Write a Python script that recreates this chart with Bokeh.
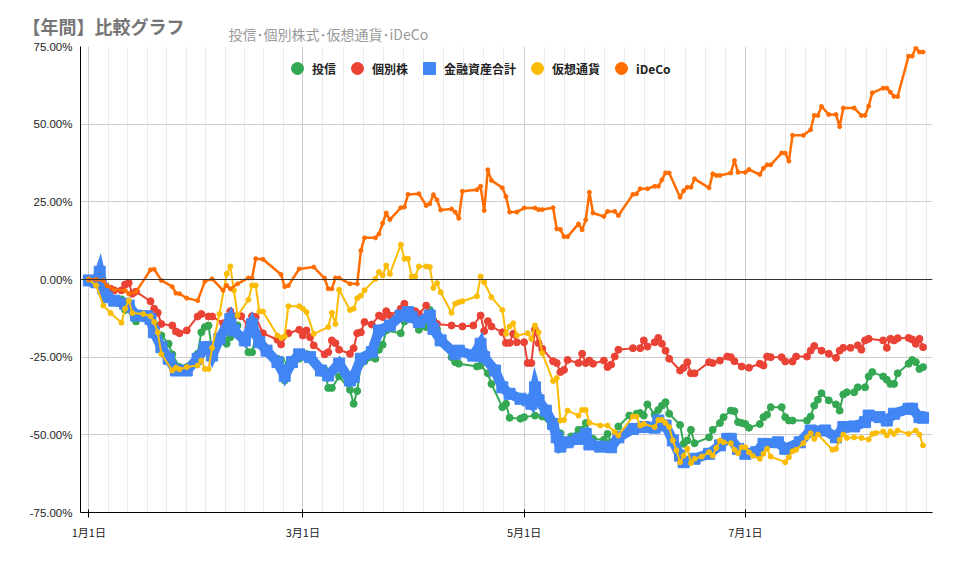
#!/usr/bin/env python3

from bokeh.embed import file_html
from bokeh.models import (ColumnDataSource, FixedTicker, Legend, LegendItem,
                          PrintfTickFormatter, Span, Title)
from bokeh.plotting import figure
from bokeh.resources import INLINE


# days counted from 1月1日, values in %
tick_days = [0, 59, 120, 181]
tick_labels = ["1月1日", "3月1日", "5月1日", "7月1日"]

toushin_day = [0, 3, 4, 5, 7, 9, 10, 12, 13, 15, 17, 18, 20, 22, 23, 25, 27, 30, 31, 32,
               33, 34, 37, 38, 39, 41, 44, 45, 46, 47, 52, 53, 54, 55, 58, 60, 62, 65, 66, 67,
               69, 72, 73, 74, 75, 76, 79, 80, 81, 82, 86, 87, 88, 91, 93, 94, 95, 96, 97, 100,
               101, 102, 107, 108, 110, 111, 114, 115, 116, 119, 120, 123, 125, 128, 129, 130, 131, 133, 135, 136,
               137, 138, 139, 142, 143, 144, 146, 149, 151, 152, 153, 154, 156, 157, 158, 159, 160, 163, 164, 165,
               166, 167, 171, 172, 174, 175, 177, 178, 179, 180, 181, 182, 185, 186, 187, 188, 191, 192, 193, 194,
               198, 199, 200, 201, 202, 204, 206, 207, 208, 209, 211, 212, 214, 215, 216, 219, 220, 221, 222, 223,
               226, 227, 228, 229, 230]
toushin_pct = [0, -0.3, -2.5, -5.7, -6.8, -6.4, -9.8, -9.8, -13.5, -11.6, -11.8, -14.3, -18, -20.7, -24.1, -28.2, -28.2, -23.9, -17, -15.3,
               -14.8, -23.4, -19.1, -20.7, -18.6, -14.8, -23.4, -23.4, -18.3, -18, -25.5, -25.9, -32.5, -27.1, -25.5, -24, -26.6, -29, -34.9, -34.9,
               -31.2, -35.5, -40, -35.9, -27.1, -26.3, -25.5, -22.6, -21, -16.4, -17.3, -13.5, -11.8, -16.2, -15.3, -9.8, -13.2, -16, -19.5, -25,
               -26.6, -27.1, -28, -27.7, -30.2, -33.6, -41.1, -40, -44.5, -44.8, -44.3, -43.8, -44.1, -48.1, -49.7, -49.5, -51.8, -50.5, -48.4, -48.4,
               -46.2, -50.8, -51.3, -51.6, -49.7, -52.4, -47.3, -43.8, -43.2, -43, -43.8, -40.2, -43.5, -42, -40.6, -39.5, -43.2, -46.8, -52.9, -51.8,
               -48.4, -52.7, -50.8, -48.4, -46.2, -44.3, -42.2, -42.4, -45.9, -46.2, -46.5, -47.7, -46.5, -44.3, -43.5, -41.1, -41.1, -44.3, -45.4, -45.4,
               -45.4, -44.1, -40.6, -38.7, -36.6, -38.9, -40.2, -42.2, -37, -36.3, -36.3, -34.7, -34.7, -31.2, -29.8, -31.2, -32.3, -33.6, -33.6, -30.2,
               -27.1, -25.9, -26.6, -28.8, -28.2]

kobetsu_day = [0, 3, 4, 6, 7, 9, 10, 11, 12, 13, 17, 18, 19, 20, 23, 24, 25, 27, 30, 31,
               33, 34, 37, 39, 40, 42, 44, 45, 46, 48, 52, 53, 55, 58, 59, 60, 61, 62, 65, 66,
               67, 68, 69, 72, 73, 74, 75, 76, 78, 80, 81, 82, 83, 86, 87, 88, 90, 91, 93, 95,
               96, 100, 103, 106, 108, 109, 110, 111, 114, 115, 116, 117, 118, 120, 121, 122, 123, 124, 125, 128,
               129, 130, 131, 132, 135, 136, 137, 138, 139, 142, 143, 144, 145, 146, 150, 152, 153, 154, 156, 157,
               158, 159, 160, 163, 164, 165, 166, 167, 171, 172, 174, 176, 177, 178, 180, 182, 185, 186, 187, 188,
               191, 192, 194, 195, 198, 199, 200, 202, 204, 206, 207, 208, 210, 212, 213, 214, 215, 219, 220, 221,
               222, 223, 226, 227, 228, 229, 230]
kobetsu_pct = [0, -0.9, -1.4, -3, -3.5, -3.5, -1.6, -1.1, -4.6, -3.9, -7, -9.4, -10.7, -14.3, -14.8, -16.7, -17.3, -16.4, -11.9, -11.1,
               -11.9, -11.9, -14.1, -10.2, -11.8, -11.8, -15.3, -11.8, -12.1, -17.3, -19.4, -20.9, -17.3, -16.2, -18, -16.4, -18.6, -21.2, -24.1, -23.4,
               -19.6, -20.5, -22.6, -23.9, -22.1, -17.3, -17, -13.7, -14.5, -11.6, -12.1, -10.2, -11.6, -9.4, -7.8, -9.8, -10.2, -11.1, -8.4, -13.4,
               -14.3, -14.8, -15.1, -14.8, -11.6, -16.6, -13.4, -15.1, -17, -20.4, -20.4, -17.5, -20.2, -20.2, -26.9, -26.9, -16.2, -20.5, -22.3, -26.3,
               -26.9, -29.8, -29.1, -25.9, -26.9, -23.9, -26.9, -26.1, -27.1, -26.1, -28.2, -27.4, -24.8, -22.6, -22.1, -22.1, -19.6, -21.6, -20.2, -18.8,
               -20.7, -22.9, -25.5, -29.3, -28.4, -26.6, -30.2, -30.2, -26.6, -26.9, -26.1, -24.8, -25, -26.3, -28, -28.4, -27.1, -27.7, -24.8, -25,
               -25, -26.4, -26.4, -24.8, -24.8, -22.9, -21.4, -22.9, -23.9, -25.2, -22.9, -22, -22, -21.2, -22.6, -19.6, -19.1, -19.6, -22, -19.1,
               -19.6, -18.9, -18.8, -19.3, -20.7, -19.1, -21.8]

goukei_day = [0, 2, 3, 4, 5, 7, 10, 11, 13, 16, 17, 18, 20, 22, 24, 27, 30, 32, 33, 34,
              36, 39, 40, 43, 45, 47, 49, 52, 54, 56, 58, 61, 64, 66, 69, 72, 73, 75, 78, 80,
              83, 86, 88, 89, 91, 94, 95, 97, 101, 102, 106, 108, 109, 112, 114, 116, 119, 121, 122, 123,
              124, 126, 128, 129, 130, 132, 135, 137, 138, 141, 144, 146, 150, 153, 156, 157, 159, 161, 163, 164,
              167, 171, 174, 176, 177, 179, 181, 184, 186, 190, 192, 196, 199, 203, 206, 208, 211, 214, 215, 218,
              220, 222, 226, 227, 229, 230]
goukei_pct = [-0.3, -0.9, 2.5, -3, -5.7, -6.8, -7.8, -8.4, -11.6, -11.8, -12.7, -17, -21.8, -25.5, -29.3, -29.3, -25.5, -21.8, -21.8, -24.5,
              -19.1, -12.7, -16.4, -19.6, -14.3, -20.2, -22.9, -26.6, -31, -26.6, -24.1, -25, -29.3, -30.9, -27.1, -32.5, -31.4, -25.5, -23.4, -16.4,
              -14.8, -11.6, -10.5, -12.1, -13.7, -11.6, -15.9, -19.6, -23.9, -22.9, -24.5, -20.7, -25, -29.3, -34.7, -36.8, -38.4, -38.9, -40, -34.7,
              -38.9, -42.2, -46.5, -50.8, -53.8, -52.4, -51.3, -49.7, -53.1, -53.8, -54, -50.8, -48.1, -47.5, -47.7, -45.4, -47, -51.8, -56.7, -58.8,
              -57.7, -56.1, -53.4, -51.3, -51.3, -54.5, -56.1, -55.6, -52.9, -52.4, -54.5, -52.4, -48.6, -48.6, -50.8, -47.5, -47.3, -45.9, -43.8, -44.3,
              -45.4, -43.2, -41.6, -41.6, -44.3, -44.5]

kasou_day = [0, 2, 4, 6, 9, 10, 11, 12, 15, 17, 18, 19, 20, 23, 24, 25, 27, 30, 31, 32,
             33, 34, 36, 38, 39, 40, 41, 44, 45, 46, 47, 48, 52, 53, 54, 55, 58, 59, 60, 62,
             66, 67, 68, 69, 72, 73, 74, 75, 76, 79, 80, 81, 82, 83, 86, 87, 88, 89, 90, 91,
             93, 94, 95, 96, 97, 100, 101, 102, 103, 107, 108, 109, 111, 114, 115, 116, 117, 118, 121, 122,
             123, 124, 125, 128, 129, 130, 131, 132, 135, 136, 137, 138, 141, 143, 145, 146, 150, 151, 152, 153,
             156, 157, 158, 159, 160, 161, 162, 163, 164, 165, 166, 167, 169, 171, 172, 173, 174, 175, 177, 178,
             179, 180, 181, 182, 183, 185, 186, 187, 188, 192, 193, 194, 195, 197, 198, 199, 200, 201, 205, 206,
             207, 208, 209, 211, 213, 215, 216, 217, 219, 220, 221, 222, 223, 226, 228, 229, 230]
kasou_pct = [0, -1.9, -8.4, -10.8, -13.9, -9.4, -6.8, -10.8, -11.1, -11.8, -13.7, -17, -24, -29.3, -28.4, -28.9, -28.2, -27.7, -26.1, -28.8,
             -28.8, -22, -11.1, 1.8, 4.2, -3.5, -11.6, -6.5, -1.9, -1.9, -10.3, -10.3, -18, -18.8, -18.3, -8.6, -8.6, -9.4, -10.5, -17.5,
             -15.3, -10.7, -14.3, -3.3, -9.8, -9.4, -6, -5.2, -3.5, 0.2, 2.4, 1.3, 4.5, 1.8, 11.2, 6.7, 6.7, 1, 1, 4.2,
             4.2, 4, -2.7, -1.2, -4.1, -10.7, -7.8, -7.3, -7, -5.4, 1, -0.9, -5.7, -9.8, -17.5, -15.1, -14.1, -18, -17.3, -19.1,
             -14.8, -17, -23.7, -32.7, -31.7, -45.4, -45.2, -42.2, -43.8, -42, -42, -46.1, -47, -47, -49.1, -50.2, -44.1, -44.1, -47, -46.5,
             -47.5, -45.2, -45.2, -46.2, -47.5, -51.8, -55, -58.8, -56.7, -54.5, -59.1, -57.7, -57, -55.6, -56.7, -54.2, -51.8, -52.4, -52.7, -54.8,
             -55.9, -54, -54, -55.6, -56.7, -57.7, -56.1, -54.5, -57, -58.8, -57.2, -55.3, -54.8, -52.7, -50.8, -49.5, -51.3, -49.9, -54.8, -54.5,
             -51.6, -49.9, -51, -50.8, -51, -51.5, -49.7, -49.4, -48.9, -50.2, -48.9, -49.7, -48.6, -49.7, -48.6, -49.9, -53.4]

ideco_day = [0, 2, 4, 5, 7, 10, 11, 13, 17, 18, 20, 23, 24, 25, 27, 30, 32, 34, 37, 38,
             39, 41, 44, 45, 46, 48, 53, 54, 55, 58, 62, 65, 66, 67, 68, 69, 72, 74, 75, 76,
             79, 80, 81, 82, 83, 86, 87, 88, 91, 93, 94, 95, 96, 97, 100, 101, 102, 103, 107, 108,
             109, 110, 111, 114, 115, 116, 118, 120, 123, 124, 125, 128, 129, 130, 131, 132, 135, 136, 137, 138,
             139, 142, 143, 145, 146, 150, 151, 152, 154, 156, 157, 158, 159, 160, 163, 164, 165, 166, 167, 171,
             172, 173, 174, 177, 178, 179, 181, 182, 185, 186, 187, 188, 191, 192, 193, 194, 197, 199, 200, 201,
             202, 204, 206, 207, 208, 211, 213, 214, 215, 216, 219, 220, 221, 222, 223, 226, 227, 228, 229, 230]
ideco_pct = [0, 0, -0.3, -2, -3.3, -3.5, -4.6, -4, 3.1, 3.3, -0.3, -2.3, -4.4, -4.6, -6, -6.8, -0.6, 0.2, -3.5, -1.9,
             -3, -1.4, 0.5, 0.5, 6.7, 6.5, 1.6, -2.3, -2, 3.4, 4, 0.4, -3, -3, 0.5, 0.5, -1.4, -1.4, 9.3, 13.4,
             13.4, 14.7, 18.1, 21.4, 19.3, 23.1, 23.3, 27.4, 27.6, 23.8, 24.4, 27.3, 25.6, 22.4, 22.7, 21.7, 19.7, 28.4, 28.9, 30,
             22.2, 35.3, 31.9, 29.5, 26.7, 21.7, 21.7, 23, 23, 22.5, 22.5, 23.1, 16.3, 16.1, 13.8, 13.8, 17.9, 16, 19.2, 28.1,
             21.4, 20.3, 21.9, 21.9, 20.6, 27.4, 27.6, 29.2, 29.2, 30, 30, 32.1, 34.3, 34.3, 26.5, 28.6, 29.7, 29.7, 32.4, 29.5,
             34, 33.5, 33.5, 34.3, 38.3, 34.5, 34.5, 35.4, 33.8, 35.8, 36.9, 36.9, 40.7, 40.7, 38.1, 46.4, 46.4, 48.2, 52.8, 52.8,
             55.7, 53.1, 53.1, 49.2, 55.2, 55.2, 52.8, 52.8, 55.8, 60.1, 61.6, 61.6, 60.3, 58.9, 58.9, 71.9, 71.9, 74.6, 73.2, 73.2]

colours = {
    "投信": "#34a853",
    "個別株": "#ea4335",
    "金融資産合計": "#4285f4",
    "仮想通貨": "#fbbc04",
    "iDeCo": "#ff6d01",
}

JP = "Noto Sans CJK JP"


def add_series(p, days, pct, colour, size, marker="circle", width=2, join="bevel"):
    src = ColumnDataSource(dict(day=days, pct=pct))
    p.line("day", "pct", source=src, line_color=colour, line_width=width, line_join=join)
    return p.scatter("day", "pct", source=src, marker=marker, size=size,
                     fill_color=colour, line_color=colour)


def minor_days():
    # 11 minor steps between the two-month labels
    out = []
    bounds = tick_days + [242]
    for a, b in zip(bounds[:-1], bounds[1:]):
        step = (b - a) / 11
        out += [a + step * k for k in range(1, 11)]
    return [d for d in out if d < 232]


p = figure(width=952, height=560, x_range=(-2.3, 232.6), y_range=(-75, 75),
           output_backend="svg", toolbar_location=None,
           min_border_left=80, min_border_right=20, min_border_top=46,
           min_border_bottom=48)

# title sits above and partly beside the subtitle, hence the negative standoff
p.title = Title(text="【年間】比較グラフ", align="left", offset=-58,
                text_font=JP, text_font_size="18px", text_font_style="bold",
                text_color="#757575", standoff=-38)
p.add_layout(Title(text="投信･個別株式･仮想通貨･iDeCo", align="left", offset=148,
                   text_font=JP, text_font_size="14px", text_font_style="normal",
                   text_color="#999999", standoff=5), "above")

p.outline_line_color = None
p.background_fill_color = "white"

p.xaxis.ticker = FixedTicker(ticks=tick_days, minor_ticks=minor_days())
p.xaxis.major_label_overrides = dict(zip(tick_days, tick_labels))
p.xaxis.major_label_text_font = JP
p.xaxis.major_label_text_font_size = "11px"
p.xaxis.major_label_text_color = "#222222"
p.xaxis.axis_line_color = "black"
p.xaxis.major_tick_line_color = "black"
p.xaxis.major_tick_in = 3
p.xaxis.major_tick_out = 5
p.xaxis.minor_tick_line_color = None
p.xaxis.major_label_standoff = 6

p.yaxis.ticker = FixedTicker(ticks=[-75, -50, -25, 0, 25, 50, 75])
p.yaxis.formatter = PrintfTickFormatter(format="%.2f%%")
p.yaxis.major_label_text_font = "Liberation Sans"
p.yaxis.major_label_text_font_size = "11.5px"
p.yaxis.major_label_text_color = "#222222"
p.yaxis.axis_line_color = "black"
p.yaxis.major_tick_line_color = None
p.yaxis.major_tick_out = 0
p.yaxis.major_tick_in = 0
p.yaxis.minor_tick_line_color = None
p.yaxis.major_label_standoff = 8

p.xgrid.grid_line_color = "#cccccc"
p.xgrid.minor_grid_line_color = "#ebebeb"
p.ygrid.grid_line_color = "#cccccc"

p.add_layout(Span(location=0, dimension="width", line_color="#333333", line_width=1))

r_toushin = add_series(p, toushin_day, toushin_pct, colours["投信"], 7)
r_kobetsu = add_series(p, kobetsu_day, kobetsu_pct, colours["個別株"], 7)
r_goukei = add_series(p, goukei_day, goukei_pct, colours["金融資産合計"], 11,
                      marker="square", width=10, join="miter")
r_kasou = add_series(p, kasou_day, kasou_pct, colours["仮想通貨"], 5)
r_ideco = add_series(p, ideco_day, ideco_pct, colours["iDeCo"], 4, width=2.5)

legend = Legend(
    items=[
        LegendItem(label="投信", renderers=[r_toushin]),
        LegendItem(label="個別株", renderers=[r_kobetsu]),
        LegendItem(label="金融資産合計", renderers=[r_goukei]),
        LegendItem(label="仮想通貨", renderers=[r_kasou]),
        LegendItem(label="iDeCo", renderers=[r_ideco]),
    ],
    orientation="horizontal",
    location=(202, 429),
    glyph_width=30,
    glyph_height=30,
    label_standoff=0,
    spacing=6,
    padding=0,
    margin=0,
    border_line_color=None,
    background_fill_color=None,
    label_text_font=JP,
    label_text_font_size="12px",
    label_text_font_style="bold",
    label_text_color="#222222",
)
p.add_layout(legend)

open("out.html", "w").write(file_html(p, INLINE))
